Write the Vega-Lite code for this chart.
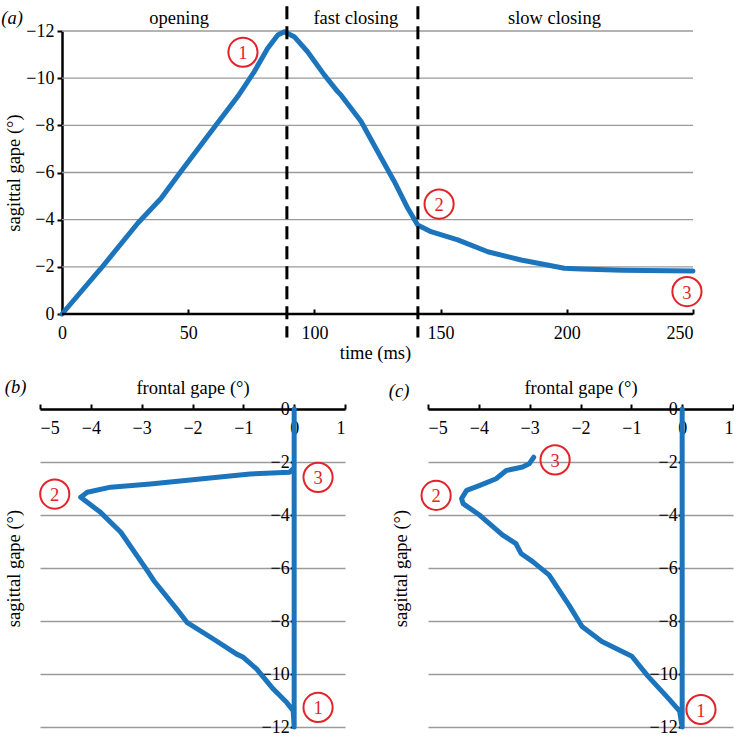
{
  "$schema": "https://vega.github.io/schema/vega-lite/v6.json",
  "padding": {"left": 1, "top": 4, "right": 0, "bottom": 0},
  "background": "white",
  "config": {
    "font": "Liberation Serif",
    "view": {"stroke": null},
    "style": {"guide-label": {"font": "Liberation Serif"}, "guide-title": {"font": "Liberation Serif"}},
    "axis": {
      "labelFont": "Liberation Serif", "titleFont": "Liberation Serif",
      "labelFontSize": 18, "titleFontSize": 18.5, "titleFontWeight": "normal",
      "labelColor": "black", "titleColor": "black",
      "domainColor": "black", "tickColor": "black",
      "gridColor": "#9a9a9a", "gridWidth": 1.3
    }
  },
  "datasets": {
    "top": [
      {"t": 0, "g": 0}, {"t": 15.5, "g": -1.94}, {"t": 30, "g": -3.85}, {"t": 39.2, "g": -4.9},
      {"t": 47.1, "g": -6.04}, {"t": 59, "g": -7.73}, {"t": 69.6, "g": -9.22}, {"t": 76.2, "g": -10.28},
      {"t": 81.5, "g": -11.27}, {"t": 85.5, "g": -11.83}, {"t": 88.1, "g": -11.97}, {"t": 92, "g": -11.76},
      {"t": 97.3, "g": -11.12}, {"t": 103.9, "g": -10.14}, {"t": 109.2, "g": -9.43}, {"t": 110.5, "g": -9.29},
      {"t": 118.5, "g": -8.16}, {"t": 125.1, "g": -6.88}, {"t": 131.7, "g": -5.61}, {"t": 137, "g": -4.48},
      {"t": 140.9, "g": -3.77}, {"t": 146.2, "g": -3.49}, {"t": 156.8, "g": -3.14}, {"t": 168.7, "g": -2.64},
      {"t": 181.9, "g": -2.29}, {"t": 199, "g": -1.94}, {"t": 205.6, "g": -1.91}, {"t": 222, "g": -1.86},
      {"t": 250, "g": -1.82}
    ],
    "topGrid": [{"g": -2}, {"g": -4}, {"g": -6}, {"g": -8}, {"g": -10}, {"g": -12}],
    "phaseBounds": [{"t": 89.1}, {"t": 141}],
    "phaseNames": [{"t": 46.4, "name": "opening"}, {"t": 116.4, "name": "fast closing"}, {"t": 195.1, "name": "slow closing"}],
    "topAnn": [{"t": 71.7, "g": -11.1, "n": "1"}, {"t": 149.4, "g": -4.66, "n": "2"}, {"t": 247.6, "g": -0.95, "n": "3"}],
    "b": [
      {"i": 0, "f": 0, "s": 0}, {"i": 1, "f": 0, "s": -12}, {"i": 2, "f": -0.02, "s": -11.38},
      {"i": 3, "f": -0.15, "s": -11.07}, {"i": 4, "f": -0.41, "s": -10.57}, {"i": 5, "f": -0.74, "s": -9.81},
      {"i": 6, "f": -1.0, "s": -9.37}, {"i": 7, "f": -1.13, "s": -9.25}, {"i": 8, "f": -1.59, "s": -8.68},
      {"i": 9, "f": -2.11, "s": -8.05}, {"i": 10, "f": -2.31, "s": -7.55}, {"i": 11, "f": -2.76, "s": -6.48},
      {"i": 12, "f": -2.89, "s": -6.1}, {"i": 13, "f": -3.09, "s": -5.54}, {"i": 14, "f": -3.41, "s": -4.65},
      {"i": 15, "f": -3.81, "s": -3.9}, {"i": 16, "f": -4.2, "s": -3.33}, {"i": 17, "f": -4.07, "s": -3.14},
      {"i": 18, "f": -3.61, "s": -2.95}, {"i": 19, "f": -2.83, "s": -2.83}, {"i": 20, "f": -1.85, "s": -2.64},
      {"i": 21, "f": -0.87, "s": -2.45}, {"i": 22, "f": -0.09, "s": -2.39}, {"i": 23, "f": -0.03, "s": -2.27}
    ],
    "bAnn": [{"f": 0.47, "s": -11.26, "n": "1"}, {"f": -4.71, "s": -3.21, "n": "2"}, {"f": 0.47, "s": -2.58, "n": "3"}],
    "c": [
      {"i": 0, "f": 0, "s": 0}, {"i": 1, "f": 0, "s": -12}, {"i": 2, "f": -0.05, "s": -11.4},
      {"i": 3, "f": -0.28, "s": -10.9}, {"i": 4, "f": -0.67, "s": -10.09}, {"i": 5, "f": -0.99, "s": -9.33},
      {"i": 6, "f": -1.12, "s": -9.21}, {"i": 7, "f": -1.58, "s": -8.77}, {"i": 8, "f": -1.97, "s": -8.21},
      {"i": 9, "f": -2.23, "s": -7.39}, {"i": 10, "f": -2.62, "s": -6.26}, {"i": 11, "f": -2.94, "s": -5.76},
      {"i": 12, "f": -3.17, "s": -5.45}, {"i": 13, "f": -3.27, "s": -5.08}, {"i": 14, "f": -3.53, "s": -4.76},
      {"i": 15, "f": -3.98, "s": -4.01}, {"i": 16, "f": -4.31, "s": -3.57}, {"i": 17, "f": -4.34, "s": -3.38},
      {"i": 18, "f": -4.24, "s": -3.07}, {"i": 19, "f": -3.98, "s": -2.88}, {"i": 20, "f": -3.66, "s": -2.63},
      {"i": 21, "f": -3.46, "s": -2.32}, {"i": 22, "f": -3.14, "s": -2.19}, {"i": 23, "f": -3.01, "s": -2.07},
      {"i": 24, "f": -2.92, "s": -1.82}
    ],
    "cAnn": [{"f": 0.37, "s": -11.34, "n": "1"}, {"f": -4.84, "s": -3.26, "n": "2"}, {"f": -2.5, "s": -1.92, "n": "3"}]
  },
  "spacing": 16,
  "vconcat": [
    {
      "width": 653,
      "height": 283,
      "layer": [
        {"data": {"name": "topGrid"}, "mark": {"type": "rule", "color": "#9a9a9a", "strokeWidth": 1.3},
          "encoding": {"x": {"datum": 0}, "x2": {"datum": 250}, "y": {"field": "g", "type": "quantitative"}}},
        {"data": {"name": "top"}, "mark": {"type": "line", "color": "#1c75bc", "strokeWidth": 5, "strokeCap": "round", "strokeJoin": "round"},
          "encoding": {
            "x": {"field": "t", "type": "quantitative", "scale": {"domain": [-8.72, 250], "nice": false, "zero": false},
              "axis": {"title": "time (ms)", "values": [0, 50, 100, 150, 200, 250], "grid": false, "domain": false, "labelFont": "Liberation Serif",
                "tickSize": -5, "tickWidth": 2, "labelPadding": 24, "labelBaseline": "middle",
                "titleX": 335, "titleY": 38, "titleBaseline": "middle"}},
            "y": {"field": "g", "type": "quantitative", "scale": {"domain": [0, -12], "nice": false, "zero": false},
              "axis": {"title": "sagittal gape (°)", "values": [0, -2, -4, -6, -8, -10, -12], "grid": false, "labelFont": "Liberation Serif",
                "offset": -22, "domainWidth": 2.5, "tickSize": 5, "tickWidth": 2, "labelPadding": 3,
                "titleX": -49, "titleY": 141.5, "titleAngle": 270, "titleBaseline": "middle", "titleAlign": "center"}}
          }},
        {"data": {"values": [{"axis": "time"}]}, "mark": {"type": "rule", "color": "black", "strokeWidth": 2.5},
          "encoding": {"x": {"datum": 0}, "x2": {"datum": 250}, "y": {"datum": 0}}},
        {"data": {"name": "phaseBounds"}, "mark": {"type": "rule", "color": "black", "strokeWidth": 3, "strokeDash": [13, 7]},
          "encoding": {"x": {"field": "t", "type": "quantitative"}, "y": {"datum": -13.05}, "y2": {"datum": 1.0}}},
        {"data": {"name": "phaseNames"}, "mark": {"type": "text", "fontSize": 18.5, "color": "black", "baseline": "middle"},
          "encoding": {"x": {"field": "t", "type": "quantitative"}, "y": {"datum": -12.55}, "text": {"field": "name"}}},
        {"data": {"values": [{"label": "(a)"}]}, "mark": {"type": "text", "fontSize": 18.5, "fontStyle": "italic", "color": "black", "baseline": "middle"},
          "encoding": {"x": {"datum": -19.8}, "y": {"datum": -12.55}, "text": {"field": "label"}}},
        {"data": {"name": "topAnn"}, "mark": {"type": "point", "shape": "circle", "filled": false, "stroke": "#e3222a", "strokeWidth": 2, "size": 850, "opacity": 1},
          "encoding": {"x": {"field": "t", "type": "quantitative"}, "y": {"field": "g", "type": "quantitative"}}},
        {"data": {"name": "topAnn"}, "mark": {"type": "text", "fontSize": 18.5, "color": "#e3222a", "baseline": "middle", "dy": 1},
          "encoding": {"x": {"field": "t", "type": "quantitative"}, "y": {"field": "g", "type": "quantitative"}, "text": {"field": "n"}}}
      ]
    },
    {
      "spacing": 42,
      "hconcat": [
        {
          "width": 305,
          "height": 318,
          "layer": [
            {"data": {"name": "b"}, "mark": {"type": "line", "color": "#1c75bc", "strokeWidth": 5, "strokeCap": "round", "strokeJoin": "round"},
              "encoding": {
                "x": {"field": "f", "type": "quantitative", "scale": {"domain": [-5, 1], "nice": false},
                  "axis": {"orient": "top", "title": "frontal gape (°)", "values": [-5, -4, -3, -2, -1, 0, 1], "grid": false, "labelFont": "Liberation Serif",
                    "domainWidth": 2.5, "tickSize": 5, "tickWidth": 2, "labelPadding": -24, "labelBaseline": "middle",
                    "titleY": -22, "titleBaseline": "middle"}},
                "y": {"field": "s", "type": "quantitative", "scale": {"domain": [-12, 0], "nice": false},
                  "axis": {"title": "sagittal gape (°)", "values": [0, -2, -4, -6, -8, -10, -12], "grid": true, "labelFont": "Liberation Serif",
                    "offset": -254.2, "domain": false, "tickSize": 4, "tickWidth": 2, "labelPadding": 1,
                    "titleX": -281.2, "titleY": 159, "titleAngle": 270, "titleBaseline": "middle", "titleAlign": "center"}},
                "order": {"field": "i", "type": "quantitative"}
              }},
            {"data": {"values": [{"label": "(b)"}]}, "mark": {"type": "text", "fontSize": 18.5, "fontStyle": "italic", "color": "black", "baseline": "middle"},
              "encoding": {"x": {"datum": -5.48}, "y": {"datum": 0.83}, "text": {"field": "label"}}},
            {"data": {"name": "bAnn"}, "mark": {"type": "point", "shape": "circle", "filled": false, "stroke": "#e3222a", "strokeWidth": 2, "size": 850, "opacity": 1},
              "encoding": {"x": {"field": "f", "type": "quantitative"}, "y": {"field": "s", "type": "quantitative"}}},
            {"data": {"name": "bAnn"}, "mark": {"type": "text", "fontSize": 18.5, "color": "#e3222a", "baseline": "middle", "dy": 1},
              "encoding": {"x": {"field": "f", "type": "quantitative"}, "y": {"field": "s", "type": "quantitative"}, "text": {"field": "n"}}}
          ]
        },
        {
          "width": 305,
          "height": 318,
          "layer": [
            {"data": {"name": "c"}, "mark": {"type": "line", "color": "#1c75bc", "strokeWidth": 5, "strokeCap": "round", "strokeJoin": "round"},
              "encoding": {
                "x": {"field": "f", "type": "quantitative", "scale": {"domain": [-5, 1], "nice": false},
                  "axis": {"orient": "top", "title": "frontal gape (°)", "values": [-5, -4, -3, -2, -1, 0, 1], "grid": false, "labelFont": "Liberation Serif",
                    "domainWidth": 2.5, "tickSize": 5, "tickWidth": 2, "labelPadding": -24, "labelBaseline": "middle",
                    "titleY": -22, "titleBaseline": "middle"}},
                "y": {"field": "s", "type": "quantitative", "scale": {"domain": [-12, 0], "nice": false},
                  "axis": {"title": "sagittal gape (°)", "values": [0, -2, -4, -6, -8, -10, -12], "grid": true, "labelFont": "Liberation Serif",
                    "offset": -254.2, "domain": false, "tickSize": 4, "tickWidth": 2, "labelPadding": 1,
                    "titleX": -281.9, "titleY": 159, "titleAngle": 270, "titleBaseline": "middle", "titleAlign": "center"}},
                "order": {"field": "i", "type": "quantitative"}
              }},
            {"data": {"values": [{"label": "(c)"}]}, "mark": {"type": "text", "fontSize": 18.5, "fontStyle": "italic", "color": "black", "baseline": "middle"},
              "encoding": {"x": {"datum": -5.57}, "y": {"datum": 0.67}, "text": {"field": "label"}}},
            {"data": {"name": "cAnn"}, "mark": {"type": "point", "shape": "circle", "filled": false, "stroke": "#e3222a", "strokeWidth": 2, "size": 850, "opacity": 1},
              "encoding": {"x": {"field": "f", "type": "quantitative"}, "y": {"field": "s", "type": "quantitative"}}},
            {"data": {"name": "cAnn"}, "mark": {"type": "text", "fontSize": 18.5, "color": "#e3222a", "baseline": "middle", "dy": 1},
              "encoding": {"x": {"field": "f", "type": "quantitative"}, "y": {"field": "s", "type": "quantitative"}, "text": {"field": "n"}}}
          ]
        }
      ]
    }
  ]
}
